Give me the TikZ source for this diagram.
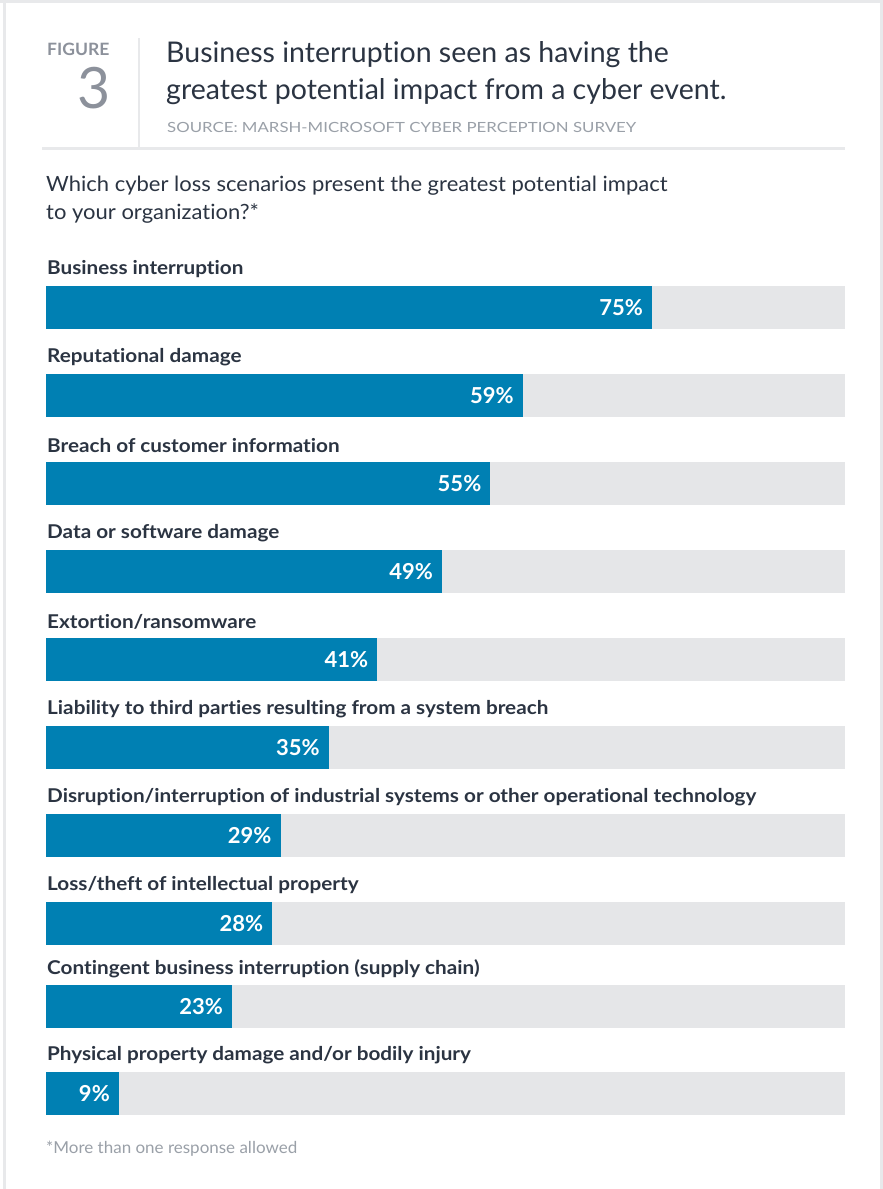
\documentclass[tikz,border=0pt]{standalone}
\usepackage{fontspec}
\usepackage{graphicx}
\setmainfont{Lato}[Ligatures=NoCommon]
\definecolor{barblue}{HTML}{0080B3}
\definecolor{bargrey}{HTML}{E5E6E8}
\definecolor{navy}{HTML}{2B3442}
\definecolor{figgrey}{HTML}{8C919B}
\definecolor{srcgrey}{HTML}{9AA0A8}
\definecolor{framegrey}{HTML}{E8E9EB}
\newcommand{\hs}[2]{\scalebox{#1}[1]{#2}}
\begin{document}
\begin{tikzpicture}[x=1pt,y=-1pt,
  lbl/.style={anchor=west,inner sep=0pt,font=\fontsize{19}{22}\selectfont\bfseries,text=navy},
  pct/.style={anchor=east,inner sep=0pt,font=\fontsize{22}{26}\selectfont\bfseries,text=white}]
\useasboundingbox (0,0) rectangle (883,1189);
\fill[white] (0,0) rectangle (883,1189);
% frame
\fill[framegrey] (0,0) rectangle (883,3);
\fill[framegrey] (3,0) rectangle (6,1189);
\fill[framegrey] (880,0) rectangle (883,1189);
% header
\node[anchor=west,inner sep=0pt,text=figgrey,font=\fontsize{17}{20}\selectfont\bfseries] (fig) at (47,49) {\hs{1.03}{FIGURE}};
\node[anchor=east,inner sep=0pt,text=figgrey,font=\fontsize{57}{60}\selectfont] (num) at (111,88) {3};
\draw[framegrey,line width=2pt] (139,38) -- (139,147);
\node[anchor=west,inner sep=0pt,text=navy,font=\fontsize{28.5}{32}\selectfont] (t1) at (166,55) {Business interruption seen as having the};
\node[anchor=west,inner sep=0pt,text=navy,font=\fontsize{28.5}{32}\selectfont] (t2) at (166,92) {greatest potential impact from a cyber event.};
\node[anchor=west,inner sep=0pt,text=srcgrey,font=\fontsize{14}{16}\selectfont] (src) at (167,127.5) {\hs{1.2}{SOURCE: MARSH-MICROSOFT CYBER PERCEPTION SURVEY}};
\draw[framegrey,line width=3pt] (42,148.5) -- (845,148.5);
% question
\node[anchor=west,inner sep=0pt,text=navy,font=\fontsize{21}{24}\selectfont] (q1) at (46,186) {\hs{1.047}{Which cyber loss scenarios present the greatest potential impact}};
\node[anchor=west,inner sep=0pt,text=navy,font=\fontsize{21}{24}\selectfont] (q2) at (46,214) {\hs{1.047}{to your organization?*}};
% bars
\foreach \lab/\v/\yt [count=\i] in {
  {Business interruption}/75/286,
  {Reputational damage}/59/374,
  {Breach of customer information}/55/462,
  {Data or software damage}/49/550,
  {Extortion/ransomware}/41/638,
  {Liability to third parties resulting from a system breach}/35/726,
  {Disruption/interruption of industrial systems or other operational technology}/29/814,
  {Loss/theft of intellectual property}/28/902,
  {Contingent business interruption (supply chain)}/23/985,
  {Physical property damage and/or bodily injury}/9/1072}{
  \node[lbl] (l\i) at (47,\yt-16.5) {\hs{1.09}{\lab}};
  \fill[bargrey] (46,\yt) rectangle (845,\yt+43);
  \fill[barblue] (46,\yt) rectangle ({46.3+8.076*\v},\yt+43);
  \node[pct] (p\i) at ({46.3+8.076*\v-9},\yt+21.5) {\v\%};
}
\node[anchor=west,inner sep=0pt,text=srcgrey,font=\fontsize{16.5}{19}\selectfont] (foot) at (46,1149) {\hs{1.03}{*More than one response allowed}};
\end{tikzpicture}
\end{document}
